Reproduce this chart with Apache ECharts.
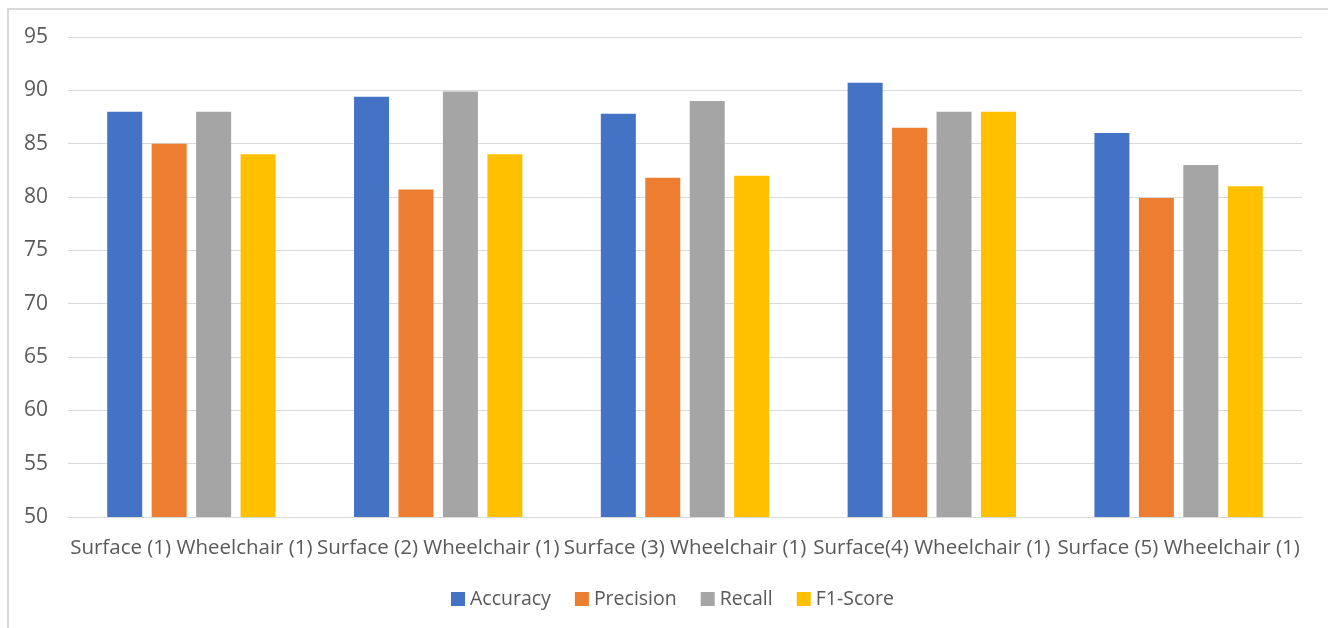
<!DOCTYPE html>
<html>
<head>
<meta charset="utf-8">
<style>
  html, body { margin: 0; padding: 0; background: #ffffff; }
  #chart { width: 1328px; height: 628px; }
</style>
<script src="https://cdn.jsdelivr.net/npm/echarts@6/dist/echarts.min.js"></script>
</head>
<body>
<div id="chart"></div>
<script>
// Categories along the x axis
const categories = [
  'Surface (1) Wheelchair (1)',
  'Surface (2) Wheelchair (1)',
  'Surface (3) Wheelchair (1)',
  'Surface(4) Wheelchair (1)',
  'Surface (5) Wheelchair (1)'
];

// Metric values per category
const accuracy  = [88.0, 89.4, 87.8, 90.7, 86.0];
const precision = [85.0, 80.7, 81.8, 86.5, 79.9];
const recall    = [88.0, 89.9, 89.0, 88.0, 83.0];
const f1Score   = [84.0, 84.0, 82.0, 88.0, 81.0];

const seriesNames = ['Accuracy', 'Precision', 'Recall', 'F1-Score'];
const seriesData = [accuracy, precision, recall, f1Score];
const colors = ['#4472c4', '#ed7d31', '#a5a5a5', '#ffc000'];

const FONT = 'Open Sans';
const TEXT_COLOR = '#595959';

const chart = echarts.init(document.getElementById('chart'), null, { renderer: 'canvas' });

chart.setOption({
  animation: false,
  backgroundColor: '#ffffff',
  color: colors,
  textStyle: { fontFamily: FONT },
  grid: { left: 68, right: 26, top: 37, bottom: 111, containLabel: false },
  legend: {
    top: 589,
    left: 451,
    padding: 0,
    itemWidth: 14,
    itemHeight: 14,
    itemGap: 24,
    icon: 'rect',
    textStyle: { fontFamily: FONT, fontSize: 19.5, color: TEXT_COLOR },
    data: seriesNames
  },
  xAxis: {
    type: 'category',
    data: categories,
    axisLine: { show: true, lineStyle: { color: '#d9d9d9', width: 1 } },
    axisTick: { show: false },
    axisLabel: { interval: 0, margin: 21, fontFamily: FONT, fontSize: 20.5, color: TEXT_COLOR }
  },
  yAxis: {
    type: 'value',
    min: 50,
    max: 95,
    interval: 5,
    axisLine: { show: false },
    axisTick: { show: false },
    axisLabel: { margin: 20, fontFamily: FONT, fontSize: 21, color: TEXT_COLOR },
    splitLine: { lineStyle: { color: '#d9d9d9', width: 1 } }
  },
  series: seriesNames.map((name, i) => ({
    name: name,
    type: 'bar',
    data: seriesData[i],
    barWidth: 35,
    barGap: '27%',
    itemStyle: { color: colors[i] }
  })),
  graphic: [
    {
      type: 'polyline',
      silent: true,
      shape: { points: [[8, 628], [8, 9], [1328, 9]] },
      style: { stroke: '#d9d9d9', lineWidth: 2, fill: null }
    }
  ]
});
</script>
</body>
</html>
